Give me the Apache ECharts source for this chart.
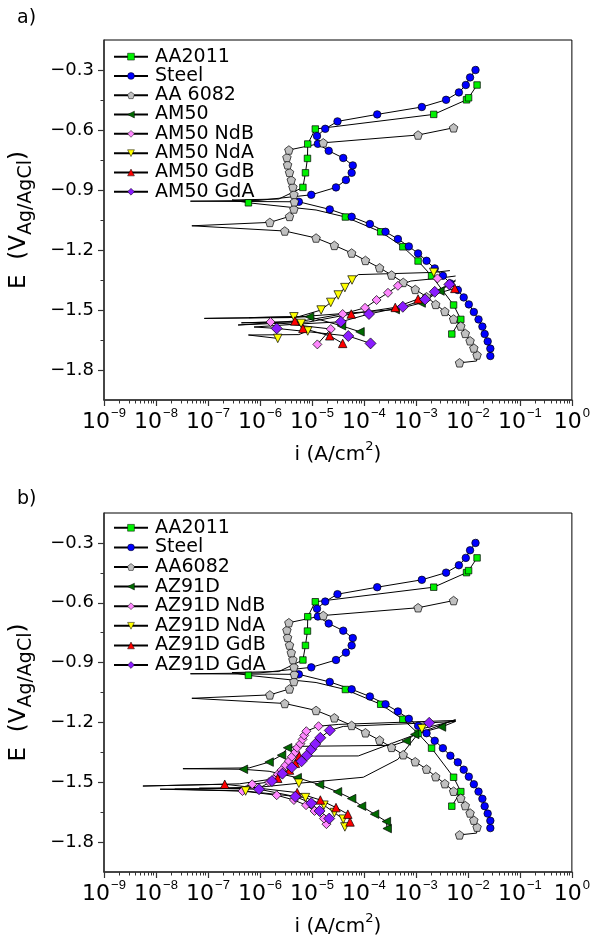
<!DOCTYPE html>
<html>
<head>
<meta charset="utf-8">
<script src="https://cdn.jsdelivr.net/npm/echarts@6/dist/echarts.min.js"></script>
<style>
  html, body { margin: 0; padding: 0; background: #fff; }
  #chart { width: 593px; height: 938px; }
</style>
</head>
<body>
<div id="chart"></div>
<script>
// [i (A/cm2), E (V)] ; a third value 0 = point on the line without a marker
const steel = [
  [2.7e-2, -1.730], [2.7e-2, -1.693], [2.4e-2, -1.657], [2.1e-2, -1.620], [1.9e-2, -1.583],
  [1.6e-2, -1.547], [1.3e-2, -1.510], [1.04e-2, -1.472], [8.3e-3, -1.437], [6.4e-3, -1.400],
  [4.6e-3, -1.367], [3.3e-3, -1.329], [2.3e-3, -1.292], [1.6e-3, -1.254], [1.1e-3, -1.217],
  [7.3e-4, -1.182], [4.5e-4, -1.145], [2.6e-4, -1.109], [1.3e-4, -1.070], [5.8e-5, -1.034],
  [2.2e-5, -0.997], [5.6e-6, -0.959], [4.6e-8, -0.956, 0], [9.6e-7, -0.952, 0], [9.7e-6, -0.924],
  [2.9e-5, -0.887], [4.5e-5, -0.850], [5.8e-5, -0.814], [6.1e-5, -0.777], [4.0e-5, -0.740],
  [2.1e-5, -0.704], [1.3e-5, -0.669], [1.25e-5, -0.630], [1.8e-5, -0.594], [3.1e-5, -0.557],
  [1.8e-4, -0.522], [1.3e-3, -0.485], [3.8e-3, -0.449], [6.7e-3, -0.412], [9.1e-3, -0.375],
  [1.1e-2, -0.337], [1.4e-2, -0.300], [1.5e-2, -0.280, 0]
];
const aa2011 = [
  [4.9e-3, -1.620], [7.3e-3, -1.547], [5.3e-3, -1.475], [2.0e-3, -1.329], [1.1e-3, -1.255],
  [5.6e-4, -1.184], [2.1e-4, -1.109], [4.4e-5, -1.035], [1.2e-5, -1.000, 0], [6.0e-7, -0.964],
  [2.9e-7, -0.950, 0], [2.3e-6, -0.945, 0], [6.7e-6, -0.887], [7.5e-6, -0.814], [8.2e-6, -0.742],
  [8.3e-6, -0.670], [1.16e-5, -0.595], [2.2e-3, -0.522], [9.4e-3, -0.449], [1.03e-2, -0.439],
  [1.5e-2, -0.375]
];
const aa6082 = [
  [6.9e-3, -1.764], [1.47e-2, -1.755, 0], [1.5e-2, -1.725], [1.3e-2, -1.690], [1.1e-2, -1.654],
  [8.9e-3, -1.617], [7.3e-3, -1.580], [5.3e-3, -1.545], [3.6e-3, -1.507], [2.4e-3, -1.472],
  [1.6e-3, -1.434], [9.7e-4, -1.397], [5.7e-4, -1.362], [3.4e-4, -1.325], [2.0e-4, -1.289],
  [1.07e-4, -1.252], [5.8e-5, -1.215], [2.7e-5, -1.177], [1.2e-5, -1.140], [3.0e-6, -1.105],
  [4.9e-8, -1.079, 0], [1.55e-6, -1.062], [3.7e-6, -1.032], [4.5e-6, -0.995], [4.6e-6, -0.959],
  [4.5e-6, -0.922], [4.3e-6, -0.885], [4.0e-6, -0.850], [3.7e-6, -0.812], [3.4e-6, -0.774],
  [3.3e-6, -0.737], [3.6e-6, -0.700], [1.65e-5, -0.664], [1.1e-3, -0.625], [5.3e-3, -0.589]
];

// panel a) AM50 alloys
const am50 = [
  [8.4e-5, -1.609], [3.7e-5, -1.579], [9.0e-6, -1.534], [8.5e-8, -1.542, 0], [3.6e-6, -1.538, 0],
  [4.0e-4, -1.498], [1.26e-3, -1.465], [2.9e-3, -1.405], [5.8e-3, -1.350, 0]
];
const am50NdB = [
  [1.27e-5, -1.672], [2.3e-5, -1.595], [1.6e-6, -1.560], [4.4e-7, -1.564, 0], [5.6e-6, -1.558, 0],
  [3.9e-5, -1.520], [1.05e-4, -1.489], [1.75e-4, -1.450], [2.9e-4, -1.414], [4.5e-4, -1.379],
  [8.0e-4, -1.355, 0], [2.6e-3, -1.342], [5.8e-3, -1.330, 0]
];
const am50NdA = [
  [2.2e-6, -1.642], [6.0e-7, -1.625, 0], [5.6e-6, -1.623, 0], [8.3e-6, -1.605], [6.2e-6, -1.567],
  [4.5e-6, -1.534], [6.2e-7, -1.538, 0], [5.6e-6, -1.533, 0], [1.5e-5, -1.500], [2.3e-5, -1.462],
  [3.2e-5, -1.425], [4.3e-5, -1.388], [5.9e-5, -1.350], [7.8e-5, -1.323, 0], [2.2e-3, -1.312],
  [4.5e-3, -1.303, 0]
];
const am50GdB = [
  [3.9e-5, -1.667], [2.2e-5, -1.629], [6.7e-6, -1.592], [4.7e-6, -1.555], [3.8e-7, -1.575, 0],
  [8.6e-6, -1.560, 0], [5.7e-5, -1.520], [4.0e-4, -1.487], [1.1e-3, -1.445], [5.6e-3, -1.392],
  [6.9e-3, -1.380, 0]
];
const am50GdA = [
  [1.34e-4, -1.667], [5.0e-5, -1.630], [2.1e-6, -1.592], [7.7e-7, -1.585, 0], [5.6e-6, -1.570, 0],
  [3.6e-5, -1.559], [1.25e-4, -1.520], [5.6e-4, -1.484], [1.5e-3, -1.447], [2.3e-3, -1.409],
  [4.4e-3, -1.372], [5.8e-3, -1.355, 0]
];

// panel b) AZ91D alloys
const az91d = [
  [2.8e-4, -1.732], [2.7e-4, -1.697], [1.6e-4, -1.660], [9.0e-5, -1.620], [5.8e-5, -1.582],
  [3.1e-5, -1.548], [1.4e-5, -1.512], [5.2e-6, -1.477], [1.5e-6, -1.445, 0], [4.8e-7, -1.435],
  [3.3e-8, -1.432, 0], [6.2e-7, -1.428, 0], [1.5e-6, -1.399], [2.6e-6, -1.364], [3.4e-6, -1.327],
  [5.6e-6, -1.320, 0], [3.6e-4, -1.315, 0], [6.5e-4, -1.293], [9.5e-4, -1.260], [3.1e-3, -1.223],
  [5.8e-3, -1.195, 0]
];
const az91dNdB = [
  [1.9e-5, -1.710], [1.7e-5, -1.682], [1.12e-5, -1.644], [7.7e-6, -1.615], [4.5e-6, -1.589],
  [2.1e-6, -1.565], [4.6e-7, -1.544], [1.2e-8, -1.535, 0], [4.0e-7, -1.530, 0], [7.1e-7, -1.510],
  [1.5e-6, -1.499], [1.85e-6, -1.485], [2.2e-6, -1.460], [2.6e-6, -1.439], [3.1e-6, -1.415],
  [3.6e-6, -1.394], [4.1e-6, -1.372], [4.8e-6, -1.349], [5.2e-6, -1.327], [6.0e-6, -1.307],
  [6.6e-6, -1.285], [7.1e-6, -1.265], [7.8e-6, -1.244], [1.34e-5, -1.219], [3.2e-5, -1.210, 0],
  [5.8e-3, -1.190, 0]
];
const az91dNdA = [
  [4.3e-5, -1.724], [4.0e-5, -1.685], [2.7e-5, -1.652], [1.7e-5, -1.615], [7.5e-6, -1.577],
  [5.3e-7, -1.544], [2.3e-8, -1.535, 0], [6.2e-7, -1.530, 0], [5.6e-6, -1.505], [9.7e-5, -1.475, 0],
  [4.5e-4, -1.385, 0], [1.3e-3, -1.232], [5.8e-3, -1.190, 0]
];
const az91dGdB = [
  [5.4e-5, -1.699], [4.9e-5, -1.660], [2.9e-5, -1.627], [1.45e-5, -1.589], [5.2e-6, -1.552],
  [2.1e-7, -1.510], [5.6e-9, -1.519, 0], [4.0e-7, -1.508, 0], [2.2e-6, -1.480], [3.7e-6, -1.439],
  [4.8e-6, -1.405], [5.7e-6, -1.369], [7.8e-5, -1.368, 0], [7.0e-4, -1.275, 0], [5.8e-3, -1.185, 0]
];
const az91dGdA = [
  [2.15e-5, -1.682], [1.4e-5, -1.644], [9.7e-6, -1.605], [4.8e-6, -1.572], [9.6e-7, -1.535],
  [6.8e-8, -1.530, 0], [1.04e-6, -1.525, 0], [1.7e-6, -1.494], [2.7e-6, -1.457], [4.1e-6, -1.425],
  [6.3e-6, -1.395], [8.0e-6, -1.365], [9.7e-6, -1.335], [1.16e-5, -1.308], [1.45e-5, -1.277],
  [2.2e-5, -1.240], [4.0e-5, -1.220, 0], [1.8e-3, -1.202], [5.8e-3, -1.195, 0]
];

const xDecades = [1e-9, 1e-8, 1e-7, 1e-6, 1e-5, 1e-4, 1e-3, 1e-2, 1e-1, 1];
const yTicks = [-1.8, -1.5, -1.2, -0.9, -0.6, -0.3];
const yMinorTicks = [-1.65, -1.35, -1.05, -0.75, -0.45];
const xMinorTicks = [];
for (let k = -9; k < 0; k++) {
  for (let d = 2; d <= 9; d++) xMinorTicks.push(d * Math.pow(10, k));
}

const topCurves = [
  ['AA2011', aa2011, 'sq'], ['Steel', steel, 'ci'], ['AA 6082', aa6082, 'pe'], ['AM50', am50, 'lt'],
  ['AM50 NdB', am50NdB, 'pd'], ['AM50 NdA', am50NdA, 'dt'], ['AM50 GdB', am50GdB, 'ut'], ['AM50 GdA', am50GdA, 'vd']
];
const bottomCurves = [
  ['AA2011', aa2011, 'sq'], ['Steel', steel, 'ci'], ['AA6082', aa6082, 'pe'], ['AZ91D', az91d, 'lt'],
  ['AZ91D NdB', az91dNdB, 'pd'], ['AZ91D NdA', az91dNdA, 'dt'], ['AZ91D GdB', az91dGdB, 'ut'], ['AZ91D GdA', az91dGdA, 'vd']
];

// marker looks
const marks = {
  sq: { symbol: 'rect', size: 6.5, color: '#00f000' },
  ci: { symbol: 'circle', size: 7.5, color: '#0000ff' },
  pe: { symbol: 'path://M5,0 L9.755,3.455 L7.939,9.045 L2.061,9.045 L0.245,3.455 Z', size: 8.5, color: '#c0c0c0' },
  lt: { symbol: 'path://M0,5 L10,0 L10,10 Z', size: 8.5, color: '#006a00' },
  pd: { symbol: 'diamond', size: 9, color: '#ff88ff' },
  dt: { symbol: 'path://M0,0 L10,0 L5,9 Z', size: 8.5, color: '#ffff00' },
  ut: { symbol: 'path://M5,0 L10,9 L0,9 Z', size: 8.5, color: '#ff0000' },
  vd: { symbol: 'diamond', size: 11, color: '#8a1cff' }
};

const FONT = 'DejaVu Sans';

const makeSeries = (curves, g) => curves.map(([name, pts, key]) => {
  const m = marks[key];
  return {
    name,
    type: 'line',
    xAxisIndex: 2 * g,
    yAxisIndex: 2 * g,
    symbol: m.symbol,
    symbolSize: m.size,
    showSymbol: true,
    silent: true,
    data: pts.map(p => (p[2] === 0 ? { value: [p[0], p[1]], symbol: 'none' } : [p[0], p[1]])),
    lineStyle: { color: '#000', width: 1 },
    itemStyle: { color: m.color, borderColor: '#000', borderWidth: 0.7 }
  };
});

const xLabelFmt = v => {
  const e = Math.round(Math.log10(v));
  return '{b|10}{s|' + (e < 0 ? '\u2212' + (-e) : e) + '}';
};
const yLabelFmt = v => (v < 0 ? '\u2212' : '') + Math.abs(v).toFixed(1);

const grids = [
  { left: 104, top: 40, width: 471, height: 360 },
  { left: 104, top: 513, width: 471, height: 360 }
];

const xAxes = [];
const yAxes = [];
grids.forEach((gr, g) => {
  xAxes.push({
    type: 'log', logBase: 10, gridIndex: g, min: 1e-9, max: 1, position: 'bottom',
    axisLine: { show: true, onZero: false, lineStyle: { color: '#333', width: 1.5 } },
    axisTick: { show: true, inside: false, length: 6, customValues: xDecades, lineStyle: { color: '#333', width: 1.2 } },
    axisLabel: {
      customValues: xDecades, formatter: xLabelFmt, margin: 7, color: '#000',
      rich: {
        b: { fontSize: 22, fontFamily: FONT, color: '#000', padding: [4, 0, 0, 0] },
        s: { fontSize: 13, fontFamily: 'Liberation Sans', color: '#000', verticalAlign: 'top', padding: [0, 0, 0, 1] }
      }
    },
    splitLine: { show: false },
    name: '{n|i (A/cm}{s|2}{n|)}',
    nameLocation: 'middle',
    nameGap: 40,
    nameTextStyle: {
      rich: {
        n: { fontSize: 20, fontFamily: FONT, color: '#000', padding: [5, 0, 0, 0] },
        s: { fontSize: 13, fontFamily: FONT, color: '#000', verticalAlign: 'top' }
      }
    }
  });
  xAxes.push({
    type: 'log', logBase: 10, gridIndex: g, min: 1e-9, max: 1, position: 'bottom',
    axisLine: { show: false },
    axisTick: { show: true, inside: false, length: 3.5, customValues: xMinorTicks, lineStyle: { color: '#333', width: 1 } },
    axisLabel: { show: false },
    splitLine: { show: false }
  });
  yAxes.push({
    type: 'value', gridIndex: g, min: -1.95, max: -0.15, position: 'left',
    axisLine: { show: true, onZero: false, lineStyle: { color: '#333', width: 1.5 } },
    axisTick: { show: true, inside: false, length: 6, customValues: yTicks, lineStyle: { color: '#333', width: 1.2 } },
    axisLabel: { customValues: yTicks, formatter: yLabelFmt, margin: 10, fontSize: 18, fontFamily: FONT, color: '#000' },
    splitLine: { show: false },
    name: '{n|E  (V}{s|Ag/AgCl}{n|)}',
    nameLocation: 'middle',
    nameRotate: 90,
    nameGap: 68,
    nameTextStyle: {
      rich: {
        n: { fontSize: 23, fontFamily: FONT, color: '#000', verticalAlign: 'top', padding: [0, 0, 5, 0] },
        s: { fontSize: 19, fontFamily: FONT, color: '#000', verticalAlign: 'bottom' }
      }
    }
  });
  yAxes.push({
    type: 'value', gridIndex: g, min: -1.95, max: -0.15, position: 'left',
    axisLine: { show: false, onZero: false },
    axisTick: { show: true, inside: false, length: 3.5, customValues: yMinorTicks, lineStyle: { color: '#333', width: 1 } },
    axisLabel: { show: false },
    splitLine: { show: false }
  });
});

const legendBase = {
  orient: 'vertical',
  left: 108,
  itemWidth: 34,
  itemHeight: 8.5,
  itemGap: 0,
  selectedMode: false,
  itemStyle: { borderWidth: 0.5 },
  textStyle: { fontSize: 19, fontFamily: FONT, color: '#000', padding: [0, 0, 0, 2] }
};

const chart = echarts.init(document.getElementById('chart'), null, { renderer: 'canvas' });
chart.setOption({
  animation: false,
  backgroundColor: '#fff',
  grid: grids.map(g => Object.assign({ show: true, borderColor: '#000', borderWidth: 1, backgroundColor: 'transparent' }, g)),
  xAxis: xAxes,
  yAxis: yAxes,
  legend: [
    Object.assign({}, legendBase, { top: 42, data: topCurves.map(c => c[0]), textStyle: Object.assign({}, legendBase.textStyle, { lineHeight: 19.3 }) }),
    Object.assign({}, legendBase, { top: 513, data: bottomCurves.map(c => c[0]), textStyle: Object.assign({}, legendBase.textStyle, { lineHeight: 19.6 }) })
  ],
  graphic: [
    { type: 'text', left: 17, top: 9, style: { text: 'a)', fontSize: 19, fontFamily: FONT, fill: '#000' } },
    { type: 'text', left: 17, top: 490, style: { text: 'b)', fontSize: 19, fontFamily: FONT, fill: '#000' } }
  ],
  series: makeSeries(topCurves, 0).concat(makeSeries(bottomCurves, 1))
});
</script>
</body>
</html>
